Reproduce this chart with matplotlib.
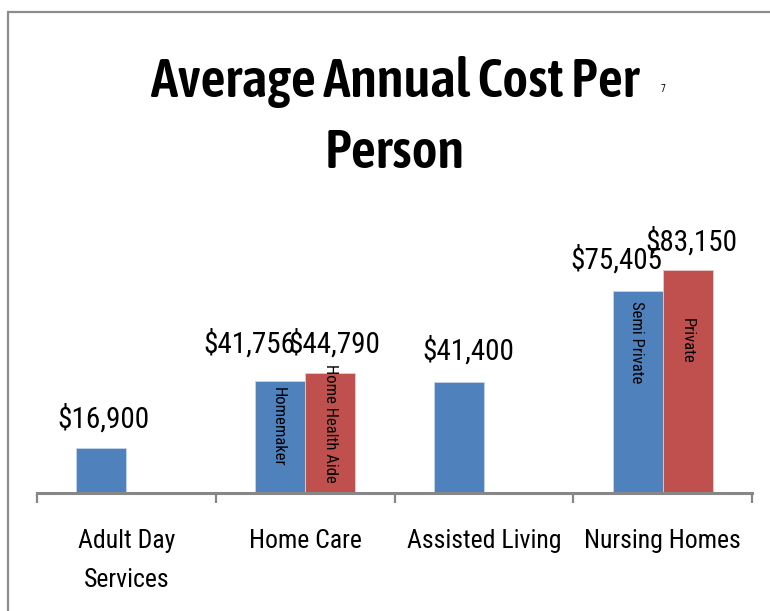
import matplotlib
matplotlib.use("Agg")
import matplotlib.pyplot as plt
from matplotlib.patches import Rectangle
import numpy as np

categories = ["Adult Day\nServices", "Home Care", "Assisted Living", "Nursing Homes"]
series1 = [16900, 41756, 41400, 75405]
series2 = [None, 44790, None, 83150]
series1_names = ["", "Homemaker", "", "Semi Private"]
series2_names = ["", "Home Health Aide", "", "Private"]
title = "Average Annual Cost Per\nPerson"
footnote = "7"

BLUE = "#4F81BD"
RED = "#C0504D"
FONT = ["Roboto Condensed", "Archivo Narrow", "Roboto", "DejaVu Sans"]
TFONT = ["Asap Condensed", "Roboto Condensed", "Roboto", "DejaVu Sans"]

W, H = 770, 611
fig = plt.figure(figsize=(W / 100, H / 100), dpi=100)
px = 72 / 100  # points per pixel

# outer border of the chart area
fig.patches.append(Rectangle((7.5 / W, -0.1), 1.2, 1 - 12 / H + 0.1, transform=fig.transFigure,
                             fill=False, edgecolor="#8c8c8c", linewidth=1.6))

ax = fig.add_axes([37 / W, 118 / H, 715 / W, 241 / H])
x = np.arange(len(categories))
bw = 0.28

ax.bar(x - bw / 2, series1, width=bw, color=BLUE, edgecolor="#c6d4e8", linewidth=0.6, zorder=2)
x2 = [xi + bw / 2 for xi, v in zip(x, series2) if v is not None]
v2 = [v for v in series2 if v is not None]
ax.bar(x2, v2, width=bw, color=RED, edgecolor="#ecc9c8", linewidth=0.6, zorder=2)

ax.set_xlim(-0.5, len(categories) - 0.5)
ax.set_ylim(0, 90000)

# value labels (offsets in pixels: dx, baseline height above bar top)
off1 = [(2, 20), (-31, 29), (9, 23), (-21, 22)]
off2 = [None, (4, 20), None, (4, 20)]
for i, v in enumerate(series1):
    dx, dy = off1[i]
    ax.annotate(f"${v:,}", (x[i] - bw / 2, v), xytext=(dx * px, dy * px), textcoords="offset points",
                ha="center", va="baseline", fontsize=21, family=FONT, annotation_clip=False)
for i, v in enumerate(series2):
    if v is None:
        continue
    dx, dy = off2[i]
    ax.annotate(f"${v:,}", (x[i] + bw / 2, v), xytext=(dx * px, dy * px), textcoords="offset points",
                ha="center", va="baseline", fontsize=21, family=FONT, annotation_clip=False)

# in-bar series names (vertical offset of text start from bar top, pixels)
noff1 = [0, -6, 0, -10]
noff2 = [0, 9, 0, -48]
for i, v in enumerate(series1):
    if series1_names[i]:
        ax.annotate(series1_names[i], (x[i] - bw / 2, v), xytext=(-1, noff1[i] * px), textcoords="offset points",
                    rotation=270, ha="center", va="top", fontsize=12, family=FONT, annotation_clip=False)
for i, v in enumerate(series2):
    if v is not None and series2_names[i]:
        ax.annotate(series2_names[i], (x[i] + bw / 2, v), xytext=(0, noff2[i] * px), textcoords="offset points",
                    rotation=270, ha="center", va="top", fontsize=12, family=FONT, annotation_clip=False)

for s in ["top", "right", "left"]:
    ax.spines[s].set_visible(False)
ax.spines["bottom"].set_color("#878787")
ax.spines["bottom"].set_linewidth(2.2)
ax.set_yticks([])
ax.set_xticks(x, categories, fontsize=18.5, family=FONT, linespacing=1.8)
ax.tick_params(axis="x", which="major", length=0, pad=26)
ax.set_xticks(np.arange(len(categories) + 1) - 0.5, minor=True)
ax.tick_params(axis="x", which="minor", length=7, width=1.6, color="#878787", direction="out")
ax.patch.set_alpha(0)

fig.text(395 / W, 1 - 168 / H, title, ha="center", va="baseline", fontsize=39.5, fontweight=600,
         family=TFONT, linespacing=1.47)
fig.text(663 / W, 1 - 92 / H, footnote, ha="center", va="baseline", fontsize=7, family=FONT)

fig.savefig("out.png", dpi=100, facecolor="white")
